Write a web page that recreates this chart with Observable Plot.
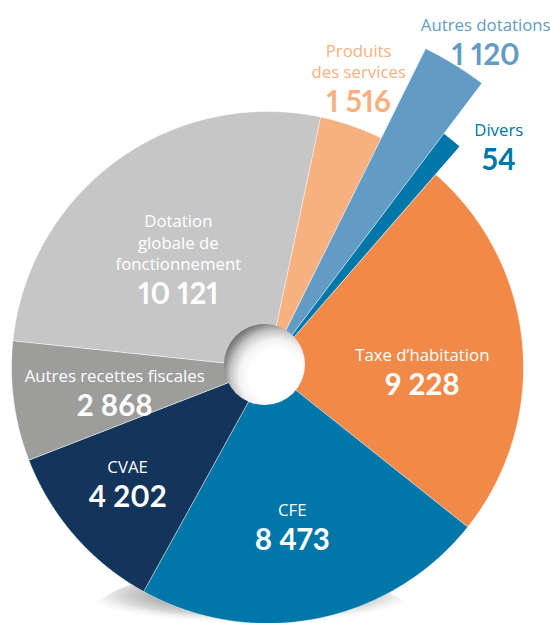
<!DOCTYPE html>
<html>
<head>
<meta charset="utf-8">
<script src="https://cdn.jsdelivr.net/npm/d3@7"></script>
<script src="https://cdn.jsdelivr.net/npm/@observablehq/plot@0.6"></script>
<style>
  html, body { margin: 0; padding: 0; background: #ffffff; }
  #chart svg { display: block; }
  #chart svg text.num { font-variant-numeric: proportional-nums; font-feature-settings: "pnum" 1; }
</style>
</head>
<body>
<div id="chart"></div>
<script>
// ---------- data ----------
const categories = ["Taxe d’habitation", "CFE", "CVAE", "Autres recettes fiscales",
  "Dotation globale de fonctionnement", "Produits des services", "Autres dotations", "Divers"];
const values = [9228, 8473, 4202, 2868, 10121, 1516, 1120, 54];
const labelLines = ["Taxe d’habitation", "CFE", "CVAE", "Autres recettes fiscales",
  "Dotation\nglobale de\nfonctionnement", "Produits\ndes services", "Autres dotations", "Divers"];

// ---------- style / layout ----------
const colors = ["#F18A49", "#0077A8", "#13345B", "#9D9D9C", "#C6C6C6", "#F7B07F", "#629CC5", "#0077A8"];
const outerRadius = [256, 256, 256, 256, 256, 256, 356, 293];
const labelRadius = [157, 183, 197, 160, 110, 272, 374, 305];
const labelTurn = [14.8, 3.5, -3.6, -9.6, -18.1, 0.4, 4.0, 10.3]; // degrees from slice middle
const labelInside = [true, true, true, true, true, false, false, false];
const W = 550, H = 623;
const cx = 267, cy = 367;
const startDeg = 41;
const minSliceDeg = 4;
const holeR = 40.5;
const labelGap = 34;     // baseline distance between name and value
const numShift = 1.2;    // keeps the block centred where the reference has it

const fmt = d3.formatLocale({decimal: ",", thousands: " ", grouping: [3]}).format(",d");
const rad = Math.PI / 180;

// tiny slices get a minimum visible angle
const total = d3.sum(values);
const minShare = minSliceDeg / 360;
const bigSum = d3.sum(values.filter(v => v / total >= minShare));
const floorVal = minShare * bigSum / (1 - minShare * values.filter(v => v / total < minShare).length);
const weights = values.map(v => v / total >= minShare ? v : floorVal);

const rows = categories.map((c, i) => ({i, category: c, value: values[i], w: weights[i]}));
const arcs = d3.pie().sort(null).value(d => d.w)
  .startAngle(startDeg * rad).endAngle(startDeg * rad + 2 * Math.PI)(rows);

const pt = (a, r) => [cx + r * Math.sin(a), cy - r * Math.cos(a)];

const sliceFeatures = arcs.map(a => {
  const i = a.data.i, r = outerRadius[i];
  const n = Math.max(2, Math.ceil((a.endAngle - a.startAngle) / (0.4 * rad)));
  const ring = [[cx, cy]];
  for (let k = 0; k <= n; k++) ring.push(pt(a.startAngle + (a.endAngle - a.startAngle) * k / n, r));
  ring.push([cx, cy]);
  return {type: "Feature", properties: {color: colors[i], name: a.data.category},
    geometry: {type: "Polygon", coordinates: [ring]}};
});

// soft shadow under the pie
const shadowRing = d3.range(0, 361, 3).map(d => [250 + 180 * Math.cos(d * rad), 640 + 75 * Math.sin(d * rad)]);
const shadow = {type: "Feature", properties: {}, geometry: {type: "Polygon", coordinates: [shadowRing]}};

const labels = arcs.map(a => {
  const i = a.data.i;
  const mid = (a.startAngle + a.endAngle) / 2 + labelTurn[i] * rad;
  const [x, y] = pt(mid, labelRadius[i]);
  return {x, y, label: labelLines[i], num: fmt(a.data.value), color: labelInside[i] ? "#ffffff" : colors[i]};
});

const labelFont = "'Open Sans', Lato, sans-serif";
const numFont = "Lato, 'Open Sans', sans-serif";

const svg = Plot.plot({
  width: W, height: H, margin: 0,
  style: {background: "#ffffff", fontFamily: labelFont},
  color: {type: "identity"},
  projection: {type: "identity", domain: {type: "MultiPoint", coordinates: [[0, 0], [W, H]]}},
  marks: [
    Plot.geo([shadow], {fill: "url(#shadowGrad)", stroke: "none"}),
    Plot.geo(sliceFeatures, {fill: d => d.properties.color, stroke: "#ffffff", strokeWidth: 0.7, strokeOpacity: 0.7}),
    Plot.dot([{x: cx - 3, y: cy - 3}], {x: "x", y: "y", r: holeR, fill: "url(#holeGrad)", stroke: "none"}),
    Plot.text(labels, {x: "x", y: d => d.y + numShift - labelGap, text: "label", fill: "color", fontSize: 16.8,
      lineAnchor: "bottom", lineHeight: 1.29, textAnchor: "middle", fontFamily: labelFont, fontWeight: 400}),
    Plot.text(labels, {x: "x", y: d => d.y + numShift, text: "num", fill: "color", fontSize: 29.5, className: "num",
      lineAnchor: "bottom", textAnchor: "middle", fontFamily: numFont, fontWeight: 700})
  ]
});

const defs = d3.select(svg).insert("defs", ":first-child");
const hg = defs.append("radialGradient").attr("id", "holeGrad")
  .attr("cx", 0.63).attr("cy", 0.63).attr("r", 0.66).attr("fx", 0.66).attr("fy", 0.66);
[[0, "#ffffff"], [0.5, "#ffffff"], [0.68, "#f2f2f2"], [0.84, "#c6c6c6"], [0.95, "#8f8f8f"], [1, "#7a7a7a"]]
  .forEach(([o, c]) => hg.append("stop").attr("offset", o).attr("stop-color", c));
const sg = defs.append("radialGradient").attr("id", "shadowGrad")
  .attr("cx", 0.5).attr("cy", 0.5).attr("r", 0.5);
[[0, "#6e6e6e", 1], [0.45, "#9a9a9a", 1], [0.75, "#d0d0d0", 0.8], [1, "#ffffff", 0]]
  .forEach(([o, c, op]) => sg.append("stop").attr("offset", o).attr("stop-color", c).attr("stop-opacity", op));
d3.select(svg).selectAll(".num text, text.num").style("font-variant-numeric", "proportional-nums");

document.getElementById("chart").appendChild(svg);
</script>
</body>
</html>
